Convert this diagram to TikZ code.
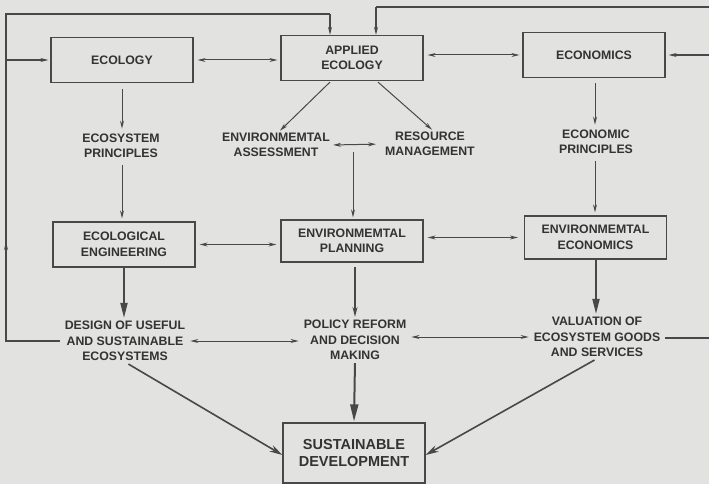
\documentclass[tikz,border=0pt]{standalone}
\usepackage{fontspec}
\setmainfont{Liberation Sans}
\usetikzlibrary{arrows.meta,calc}
\definecolor{bg}{HTML}{E2E2E0}
\definecolor{ink}{HTML}{484848}
\definecolor{txt}{HTML}{333333}
\begin{document}
\begin{tikzpicture}[x=1pt,y=-1pt,
  every node/.style={font=\bfseries\fontsize{12.3}{15.5}\selectfont, text=txt, align=center, inner sep=1pt},
  box/.style={draw=ink, line width=1.2pt, minimum width=142pt, minimum height=45pt},
  lbl/.style={},
  arr/.style={draw=ink, line width=1pt, -{Stealth[length=8pt,width=4pt]}},
  dbl/.style={draw=ink, line width=1pt, {Stealth[length=8pt,width=4pt]}-{Stealth[length=8pt,width=4pt]}},
  thick arr/.style={draw=ink, line width=1.8pt, -{Triangle[length=15pt,width=7pt]}},
  loop/.style={draw=ink, line width=1.1pt}]
\fill[bg] (0,0) rectangle (709,484);
\useasboundingbox (0,0) rectangle (709,484);
\clip (0,0) rectangle (709,484);

% boxes
\node[box] (eco) at (122,60) {ECOLOGY};
\node[box] (app) at (352,58) {APPLIED\\ECOLOGY};
\node[box] (econ) at (594,55) {ECONOMICS};
\node[box] (eeng) at (124,244.5) {ECOLOGICAL\\ENGINEERING};
\node[box, minimum height=42pt] (eplan) at (352,241) {ENVIRONMEMTAL\\PLANNING};
\node[box, minimum height=43pt] (eecon) at (595.5,237.5) {ENVIRONMEMTAL\\ECONOMICS};
\node[box, minimum height=60pt, font=\bfseries\fontsize{14.5}{17}\selectfont] (sust) at (354,453) {SUSTAINABLE\\DEVELOPMENT};

% text nodes
\node[lbl] (esp) at (121,146) {ECOSYSTEM\\PRINCIPLES};
\node[lbl] (ass) at (276,145) {ENVIRONMEMTAL\\ASSESSMENT};
\node[lbl] (res) at (430,144) {RESOURCE\\MANAGEMENT};
\node[lbl] (ecp) at (596,142) {ECONOMIC\\PRINCIPLES};
\node[lbl] (des) at (125,341) {DESIGN OF USEFUL\\AND SUSTAINABLE\\ECOSYSTEMS};
\node[lbl] (pol) at (355,340) {POLICY REFORM\\AND DECISION\\MAKING};
\node[lbl] (val) at (597,337) {VALUATION OF\\ECOSYSTEM GOODS\\AND SERVICES};

% top row links
\draw[dbl, shorten <=4pt, shorten >=3pt] (eco.east) -- (app.west |- eco.east);
\draw[dbl, shorten <=4pt, shorten >=3pt] (app.east |- econ.west) -- (econ.west);

% vertical chains
\draw[arr, shorten <=6pt, shorten >=4pt] (eco.south) -- (esp.north -| eco.south);
\draw[arr, shorten <=6pt, shorten >=3pt] (esp.south -| eco.south) -- (eeng.north -| eco.south);
\draw[arr, shorten <=5pt, shorten >=4pt] (econ.south -| 595,0) -- (ecp.north -| 595,0);
\draw[arr, shorten <=6pt, shorten >=3pt] (ecp.south -| 595,0) -- (eecon.north -| 595,0);

% applied ecology branches
\draw[arr] ($(app.south)+(-22,1)$) -- ($(ass.north)+(4,-1)$);
\draw[arr] ($(app.south)+(26,1)$) -- ($(res.north)+(2,-1)$);
\draw[dbl, shorten <=2pt, shorten >=8pt] (ass.east) -- (res.west);
\coordinate (j) at (353,152);
\draw[arr, shorten >=2pt] (j) -- (eplan.north -| j);

% middle row links
\draw[dbl, shorten <=4pt, shorten >=4pt] (eeng.east) -- (eplan.west |- eeng.east);
\draw[dbl, shorten <=4pt, shorten >=6pt] (eplan.east |- eecon.west) -- (eecon.west);

% down to outcomes
\draw[thick arr, shorten >=2pt] (eeng.south) -- (des.north -| eeng.south);
\draw[arr, line width=1.3pt, -{Stealth[length=10pt,width=5pt]}, shorten <=4pt, shorten >=2pt] (eplan.south -| pol.north) -- (pol.north);
\draw[thick arr, shorten >=2pt] (eecon.south -| 596,0) -- (val.north -| 596,0);

% bottom row links
\draw[dbl, shorten <=4pt, shorten >=4pt] (des.east) -- (pol.west |- des.east);
\draw[dbl, shorten <=4pt, shorten >=4pt] (pol.east |- val.east) -- (val.east -| val.west);

% to sustainable development
\draw[thick arr, line width=2pt, -{Triangle[length=17pt,width=8pt]}, shorten <=2pt, shorten >=1pt] (pol.south) -- (sust.north);
\draw[arr, line width=1.6pt, -{Stealth[length=13pt,width=7pt]}, shorten <=4pt] (des.south) -- ($(sust.west)+(0,2)$);
\draw[arr, line width=1.6pt, -{Stealth[length=13pt,width=7pt]}, shorten <=4pt] ($(val.south)+(1,0)$) -- ($(sust.east)+(0,2)$);

% left feedback loop
\coordinate (lb) at (6,341);
\coordinate (lt) at (6,14);
\coordinate (lx) at (330,14);
\draw[loop] ($(des.west)+(-4,0)$) -- (lb) -- (lt) -- (lx);
\draw[arr, line width=1.1pt] (lx) -- (app.north -| lx);
\draw[arr, line width=1.1pt] (lb) -- (6,242);
\draw[arr, line width=1.1pt, shorten >=2pt] (eco.west -| lt) -- (eco.west);

% right feedback loop
\coordinate (rb) at (715,338);
\coordinate (rt) at (715,7);
\coordinate (rx) at (376,7);
\draw[loop] ($(val.east)+(4,1)$) -- (rb) -- (rt) -- (rx);
\draw[arr, line width=1.1pt] (rx) -- (app.north -| rx);
\draw[arr, line width=1.1pt, shorten >=3pt] (econ.east -| rt) -- (econ.east);
\end{tikzpicture}
\end{document}
